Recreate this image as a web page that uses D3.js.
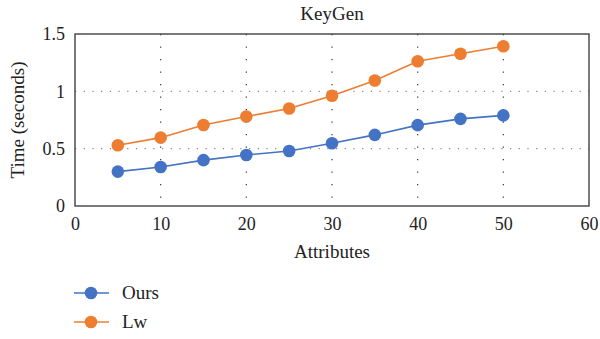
<!DOCTYPE html>
<html><head><meta charset="utf-8">
<script src="https://cdn.jsdelivr.net/npm/d3@7"></script>
<style>body{margin:0;background:#fff}svg{display:block}text{font-family:"Liberation Serif","DejaVu Serif",serif;fill:#222}</style>
</head><body>
<svg id="c" width="600" height="339"></svg>
<script>
const attributes = [5,10,15,20,25,30,35,40,45,50];
const ours = [0.30,0.34,0.40,0.445,0.48,0.547,0.62,0.705,0.76,0.79];
const lw = [0.53,0.596,0.706,0.78,0.85,0.962,1.095,1.262,1.328,1.393];
const xTicks = [0,10,20,30,40,50,60];
const yTicks = [0,0.5,1,1.5];
const yTickLabels = ["0","0.5","1","1.5"];
const seriesNames = ["Ours","Lw"];
const colors = ["#4472C4","#ED7D31"];

const svg = d3.select("#c");
const L=75,R=589,T=34,B=206;
const x = d3.scaleLinear().domain([0,60]).range([L,R]);
const y = d3.scaleLinear().domain([0,1.5]).range([B,T]);

// grid
svg.append("g").selectAll("line").data(xTicks.filter(d=>d>0&&d<60)).join("line")
  .attr("x1",d=>x(d)).attr("x2",d=>x(d)).attr("y1",T).attr("y2",B)
  .attr("stroke","#333").attr("stroke-width",1.2).attr("stroke-dasharray","1.2,11.3");
svg.append("g").selectAll("line").data(yTicks.filter(d=>d>0&&d<1.5)).join("line")
  .attr("x1",L).attr("x2",R).attr("y1",d=>y(d)).attr("y2",d=>y(d))
  .attr("stroke","#888").attr("stroke-width",1.2).attr("stroke-dasharray","1.2,7.5");

// frame
svg.append("rect").attr("x",L).attr("y",T).attr("width",R-L).attr("height",B-T)
  .attr("fill","none").attr("stroke","#333").attr("stroke-width",1.3);

// axes
const xa = svg.append("g").attr("transform",`translate(0,${B})`)
  .call(d3.axisBottom(x).tickValues(xTicks).tickSize(0).tickPadding(11));
xa.select(".domain").remove();
xa.attr("font-size",18).attr("font-family","Liberation Serif");
xa.selectAll("text").attr("fill","#222");
const ya = svg.append("g").attr("transform",`translate(${L},0)`)
  .call(d3.axisLeft(y).tickValues(yTicks).tickFormat((d,i)=>yTickLabels[i]).tickSize(0).tickPadding(10));
ya.select(".domain").remove();
ya.attr("font-size",18).attr("font-family","Liberation Serif");
ya.selectAll("text").attr("fill","#222");

// series
const all=[ours,lw];
all.forEach((vals,si)=>{
  const pts = attributes.map((a,i)=>[a,vals[i]]);
  svg.append("path").datum(pts).attr("fill","none").attr("stroke",colors[si]).attr("stroke-width",1.6)
    .attr("d",d3.line().x(d=>x(d[0])).y(d=>y(d[1])));
  svg.append("g").selectAll("circle").data(pts).join("circle")
    .attr("cx",d=>x(d[0])).attr("cy",d=>y(d[1])).attr("r",6.3).attr("fill",colors[si]);
});

// title & labels
svg.append("text").attr("x",332).attr("y",20).attr("text-anchor","middle").attr("font-size",19).text("KeyGen");
svg.append("text").attr("x",332).attr("y",258).attr("text-anchor","middle").attr("font-size",19).text("Attributes");
svg.append("text").attr("transform","translate(24,120) rotate(-90)").attr("text-anchor","middle").attr("font-size",19).text("Time (seconds)");

// legend
seriesNames.forEach((n,i)=>{
  const yy = 293 + i*29;
  svg.append("line").attr("x1",74).attr("x2",109).attr("y1",yy).attr("y2",yy).attr("stroke",colors[i]).attr("stroke-width",1.6);
  svg.append("circle").attr("cx",91).attr("cy",yy).attr("r",6.3).attr("fill",colors[i]);
  svg.append("text").attr("x",122).attr("y",yy+6).attr("font-size",19).text(n);
});
</script>
</body></html>
